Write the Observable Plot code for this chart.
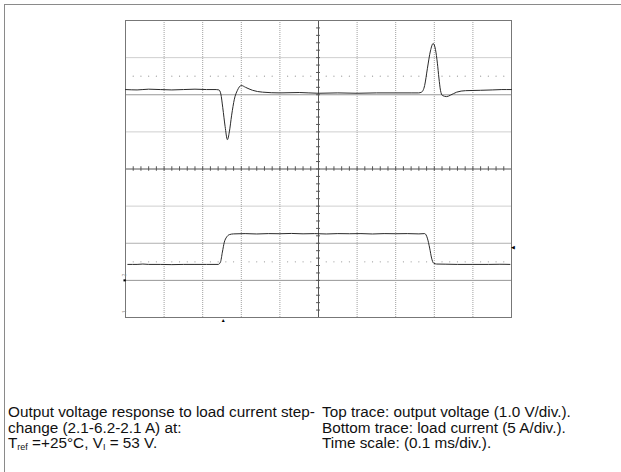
<!DOCTYPE html>
<html>
<head>
<meta charset="utf-8">
<script src="https://cdn.jsdelivr.net/npm/d3@7"></script>
<script src="https://cdn.jsdelivr.net/npm/@observablehq/plot@0.6"></script>
<style>
  html, body { margin: 0; padding: 0; background: #fff; }
  body { width: 621px; height: 472px; position: relative; overflow: hidden; font-family: "Liberation Sans", Arial, sans-serif; }
  #frame { position: absolute; left: 4px; top: 4px; right: -2px; bottom: -2px; border-top: 1px solid #8a8a8a; border-left: 1px solid #8a8a8a; }
  #chart { position: absolute; left: 0; top: 0; }
  .cap { position: absolute; top: 404px; font-size: 15.3px; line-height: 15.6px; color: #111; white-space: nowrap; }
  .cap sub { font-size: 9px; line-height: 0; vertical-align: -2px; }
</style>
</head>
<body>
<div id="frame"></div>
<div id="chart"></div>
<div class="cap" style="left:8px">Output voltage response to load current step-<br>change (2.1-6.2-2.1 A) at:<br>T<sub>ref</sub> =+25°C, V<sub>I</sub> = 53 V.</div>
<div class="cap" style="left:322px">Top trace: output voltage (1.0 V/div.).<br>Bottom trace: load current (5 A/div.).<br>Time scale: (0.1 ms/div.).</div>
<script>
// Top trace: output voltage deviation (V) vs time (ms)
const timeV = [0, 0.03, 0.06, 0.09, 0.12, 0.15, 0.18, 0.21, 0.235, 0.242, 0.247, 0.252, 0.258, 0.264, 0.269, 0.275, 0.282, 0.290, 0.300, 0.311, 0.329, 0.355, 0.40, 0.45, 0.50, 0.55, 0.60, 0.65, 0.70, 0.74, 0.759, 0.767, 0.775, 0.782, 0.790, 0.797, 0.803, 0.808, 0.812, 0.816, 0.821, 0.832, 0.842, 0.858, 0.881, 0.92, 0.95, 0.975, 1.0];
const voltV = [0.14, 0.13, 0.15, 0.14, 0.13, 0.14, 0.15, 0.14, 0.14, 0.13, 0.02, -0.35, -0.85, -1.21, -1.0, -0.55, -0.12, 0.12, 0.25, 0.20, 0.12, 0.07, 0.05, 0.06, 0.04, 0.05, 0.04, 0.05, 0.05, 0.05, 0.05, 0.07, 0.25, 0.70, 1.18, 1.38, 1.22, 0.85, 0.45, 0.12, -0.02, -0.05, -0.01, 0.07, 0.11, 0.12, 0.13, 0.14, 0.14];
// Bottom trace: load current (A) vs time (ms)
const timeI = [0.006, 0.03, 0.045, 0.06, 0.09, 0.12, 0.15, 0.18, 0.21, 0.240, 0.246, 0.251, 0.256, 0.262, 0.269, 0.28, 0.31, 0.34, 0.37, 0.40, 0.43, 0.46, 0.49, 0.52, 0.55, 0.58, 0.61, 0.64, 0.67, 0.70, 0.73, 0.76, 0.775, 0.782, 0.788, 0.793, 0.798, 0.806, 0.83, 0.86, 0.90, 0.94, 0.97, 0.996];
const currI = [2.15, 2.15, 2.2, 2.15, 2.15, 2.12, 2.15, 2.15, 2.15, 2.15, 2.46, 3.81, 5.15, 5.83, 6.16, 6.26, 6.3, 6.25, 6.3, 6.28, 6.32, 6.27, 6.3, 6.25, 6.3, 6.28, 6.3, 6.25, 6.3, 6.28, 6.3, 6.26, 6.3, 5.69, 4.35, 3.0, 2.33, 2.2, 2.18, 2.15, 2.15, 2.15, 2.17, 2.15];

// Scope settings
const voltsPerDiv = 1.0;
const ampsPerDiv = 5;
const msPerDiv = 0.1;
const ch1RefDiv = 2;     // voltage trace reference level (div)
const ch2GroundDiv = -3; // current trace 0 A level (div)
const triggerTimeMs = 0.253;
const triggerLevelA = 4.45;
const cursorDivs = [2.5, -2.5];

const vData = timeV.map((t, i) => ({t, y: ch1RefDiv + voltV[i] / voltsPerDiv}));
const iData = timeI.map((t, i) => ({t, y: ch2GroundDiv + currI[i] / ampsPerDiv}));

const xMax = 10 * msPerDiv;
const vGrid = d3.range(1, 10).filter(k => k !== 5).map(k => k * msPerDiv);
const lightH = [3, 1, -1];
const midH = [-2];
const darkH = [2, -3];
const xTicks = d3.range(0, 51).map(k => k * msPerDiv / 5);
const yTicks = d3.range(0, 41).map(k => -4 + k * 0.2);
const cursorDots = [];
for (const yv of cursorDivs) for (let k = 1; k < 50; k++) if (k % 5) cursorDots.push({t: k * msPerDiv / 5, y: yv});

const chart = Plot.plot({
  width: 621, height: 340,
  marginLeft: 125, marginRight: 110, marginTop: 20, marginBottom: 23,
  x: {domain: [0, xMax], axis: null},
  y: {domain: [-4, 4], axis: null},
  style: {background: "transparent"},
  marks: [
    Plot.ruleY(lightH, {y: d => d, stroke: "#cfcfcf"}),
    Plot.ruleY(midH, {y: d => d, stroke: "#b0b0b0"}),
    Plot.ruleY(darkH, {y: d => d, stroke: "#979797"}),
    Plot.ruleX(vGrid, {x: d => d, stroke: "#a0a0a0", strokeDasharray: "1,1"}),
    Plot.ruleX([0.5 * xMax], {x: d => d, stroke: "#555"}),
    Plot.ruleY([0], {y: d => d, stroke: "#555"}),
    Plot.ruleX(xTicks, {x: d => d, y1: () => -0.06, y2: () => 0.06, stroke: "#555"}),
    Plot.ruleY(yTicks, {y: d => d, x1: () => 0.5 * xMax - 0.005, x2: () => 0.5 * xMax + 0.005, stroke: "#555"}),
    Plot.dot(cursorDots, {x: "t", y: "y", r: 0.6, fill: "#999", stroke: null}),
    Plot.frame({stroke: "#777"}),
    Plot.line(vData, {x: "t", y: "y", stroke: "#2a2a2a", strokeWidth: 1, curve: "monotone-x"}),
    Plot.line(iData, {x: "t", y: "y", stroke: "#2a2a2a", strokeWidth: 1, curve: "monotone-x"}),
    Plot.text([triggerTimeMs], {x: d => d, y: () => -4.09, text: () => "▲", fontSize: 5, fill: "#000"}),
    Plot.text([triggerLevelA], {x: () => 1.0045, y: d => ch2GroundDiv + d / ampsPerDiv, text: () => "◀", fontSize: 5, fill: "#000"}),
    Plot.ruleY([ch2GroundDiv], {y: d => d, x1: () => -0.004, x2: () => 0.002, stroke: "#000", strokeWidth: 2}),
    Plot.text(["2", "1"], {x: () => -0.003, y: (d, i) => i === 0 ? -2.86 : -3.85, text: d => d, fontSize: 5, fill: "#888", rotate: -90})
  ]
});
document.getElementById("chart").appendChild(chart);
</script>
</body>
</html>
